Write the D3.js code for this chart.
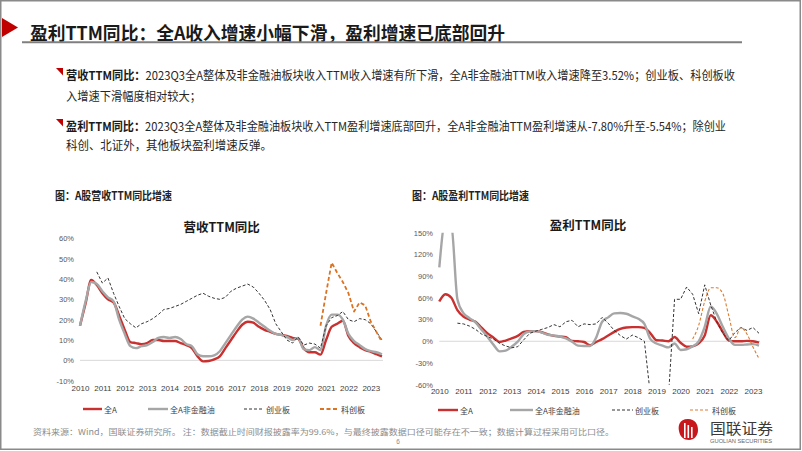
<!DOCTYPE html>
<html><head><meta charset="utf-8">
<script src="https://cdn.jsdelivr.net/npm/d3@7"></script>
<style>body{margin:0;background:#fff}svg{display:block}</style>
</head><body>
<svg id="c" width="802" height="451"></svg>
<script>
// ---------- data ----------
const years = ["2010","2011","2012","2013","2014","2015","2016","2017","2018","2019","2020","2021","2022","2023"];
const quarterNames = ["Q1","Q2","Q3","Q4"];
const legendLabels = ["全A","全A非金融油","创业板","科创板"];

// 营收TTM同比 (%), 2010Q1 - 2023Q3
const revAll = [17,28,39.5,37,33,30,28.5,22,15,9,
  8.5,8,8.5,10,10,9.5,9.5,9.5,8.5,7.5,
  6,2,-0.5,-0.3,0.5,2,6,10,14,17.5,
  19,18.5,16.5,15,14,13,12.5,12,11,10.5,
  6,4,4,2.8,10,16.5,18,19.5,12,8.5,
  6.5,5,4.2,3,2];
const revNonFin = [17,29,38.5,37.5,34,31,29,20,13,7,
  6,7,7.5,9,11,11.5,11,11.5,10.5,8,
  7,3,2,2,2.5,4.5,8.5,12.5,16.5,20,
  21.5,20.5,18.5,16.5,14.5,13,12.5,11.5,10,11,
  5.5,5,6.5,5,17,22.5,22.5,20,13,9.5,
  7.5,5.5,4.5,4,3];
const revChiNext = [null,null,null,43.5,38,40.5,33,26.5,20.5,18,
  16,18,19,20.5,22.5,25,25.5,26.5,27.5,29,
  30.5,32,33,31.5,30.5,30,31,34,35.5,36.5,
  37.5,36,33,29.5,25,18,14,10,8.5,11.5,
  7.5,8.5,8,6,17,21,22,24,20,19,
  20.5,20,18,14,10];
const revStar = [null,null,null,null,null,null,null,null,null,null,
  null,null,null,null,null,null,null,null,null,null,
  null,null,null,null,null,null,null,null,null,null,
  null,null,null,null,null,null,null,null,null,null,
  null,null,null,17,33,48,43,38.5,33,24,
  28.5,27,19,14,9];

// 盈利TTM同比 (%), 2010Q1 - 2023Q2
const profAll = [55,65,60,43,34,30,27,19,11,5,
  -1,1,4,7.5,13,14,14,12.5,9.5,7.5,
  6.5,5.5,0.5,0,-1,-5.5,-1,3,8,13,
  17,19,19.5,19.5,18.5,11,1.5,1,0,6,
  -2,-7.5,-7,-3,8,36,27,13,1,0,
  0,0.5,0,-2];
const profNonFin = [102,165,160,58,39,32,26,16,6,-5,
  -14,-13,-7.5,-0.5,10,13.5,14,12,9,8,
  6.5,4,-0.5,-6,-6.5,-6.5,5,27,33,38.5,
  39,38,34.5,31,24,3,-3,-6,-8.5,-3,
  -12,-11,-7,0,20,48,38,20,4,-5,
  -5,-4.5,-4,-6];
const profChiNext = [null,null,null,25,24,21,16.5,10,6.5,3,
  -3,-6.5,-9,-7.5,2,11,14,16.5,19,23,
  20,27,29,20,24,23,24,33,25,15,
  8,3,8.5,5,0,-75,-90,-90,-75,58,
  58,75,65,38,78,50,27,11,1,12,
  19,15,19,11];
const profStar = [null,null,null,null,null,null,null,null,null,null,
  null,null,null,null,null,null,null,null,null,null,
  null,null,null,null,null,null,null,null,null,null,
  null,null,null,null,null,null,null,null,null,null,
  null,null,3,22,55,74,74,66,35,5,
  19,10,-8,-24];

const revTicks = [-10,0,10,20,30,40,50,60];
const profTicks = [-60,-30,0,30,60,90,120,150];

// ---------- drawing ----------
const quarters = years.flatMap(y => quarterNames.map(q => y + q));
const svg = d3.select("#c");
const CJK = "'Noto Sans CJK SC','Noto Sans',sans-serif";
const LAT = "'Liberation Sans',Arial,sans-serif";

// slide frame
svg.append("rect").attr("x",0.75).attr("y",0.75).attr("width",799.5).attr("height",448.5)
  .attr("fill","none").attr("stroke","#8a8a8a").attr("stroke-width",1.5);

// header
svg.append("polygon").attr("points","2,18 18,27.5 2,37").attr("fill","#c00000");
svg.append("text").attr("x",30).attr("y",32).attr("dominant-baseline","central")
  .attr("font-family",CJK).attr("font-size",18).attr("font-weight","bold").attr("fill","#1a1a1a")
  .attr("textLength",475).attr("lengthAdjust","spacingAndGlyphs")
  .text("盈利TTM同比：全A收入增速小幅下滑，盈利增速已底部回升");
svg.append("line").attr("x1",22).attr("x2",742).attr("y1",42.3).attr("y2",42.3)
  .attr("stroke","#7f7f7f").attr("stroke-width",2);

// bullets
const bullets = [
  {y:74, head:"营收TTM同比：", body:"2023Q3全A整体及非金融油板块收入TTM收入增速有所下滑，全A非金融油TTM收入增速降至3.52%；创业板、科创板收", len:669, marker:true},
  {y:95, head:"", body:"入增速下滑幅度相对较大；", len:135, marker:false},
  {y:125, head:"盈利TTM同比：", body:"2023Q3全A整体及非金融油板块收入TTM盈利增速底部回升，全A非金融油TTM盈利增速从-7.80%升至-5.54%；除创业", len:660, marker:true},
  {y:144, head:"", body:"科创、北证外，其他板块盈利增速反弹。", len:206, marker:false}
];
bullets.forEach(b => {
  if (b.marker) svg.append("polygon")
    .attr("points",`56,${b.y-6} 63,${b.y-6} 63,${b.y+1.5}`).attr("fill","#c00000");
  const t = svg.append("text").attr("x",66).attr("y",b.y).attr("dominant-baseline","central")
    .attr("font-family",CJK).attr("font-size",12).attr("fill","#262626")
    .attr("textLength",b.len).attr("lengthAdjust","spacingAndGlyphs");
  if (b.head) t.append("tspan").attr("font-weight","bold").attr("fill","#1a1a1a").text(b.head);
  t.append("tspan").text(b.body);
});

function drawChart(cfg) {
  const g = svg.append("g");
  // caption
  g.append("text").attr("x",cfg.capX).attr("y",195).attr("dominant-baseline","central")
    .attr("font-family",CJK).attr("font-size",11).attr("font-weight","bold").attr("fill","#222")
    .attr("textLength",117).attr("lengthAdjust","spacingAndGlyphs").text(cfg.caption);
  // title
  g.append("text").attr("x",cfg.titleX).attr("y",cfg.titleY).attr("text-anchor","middle")
    .attr("dominant-baseline","central").attr("font-family",CJK).attr("font-size",12.5)
    .attr("font-weight","bold").attr("fill","#1a1a1a").text(cfg.title);

  const cats = quarters.slice(0, cfg.series[0].length);
  const x = d3.scalePoint().domain(cats).range(cfg.xRange);
  const y = d3.scaleLinear().domain(cfg.yDomain).range(cfg.yRange);

  // y axis
  const ya = g.append("g").attr("transform",`translate(${cfg.yAxisX},0)`)
    .call(d3.axisLeft(y).tickValues(cfg.ticks).tickSize(0).tickPadding(3).tickFormat(d => d + "%"));
  ya.select(".domain").remove();
  ya.selectAll("text").attr("font-family",LAT).attr("font-size",7.5).attr("fill","#595959");

  // x axis
  const xa = g.append("g").attr("transform",`translate(0,${cfg.xAxisY})`)
    .call(d3.axisBottom(x).tickValues(years.map(v => v + "Q1")).tickSize(0).tickPadding(4)
      .tickFormat(d => d.slice(0,4)));
  xa.select(".domain").remove();
  xa.selectAll("text").attr("font-family",LAT).attr("font-size",8).attr("fill","#404040");

  // zero line
  g.append("line").attr("x1",cfg.xRange[0]).attr("x2",cfg.xRange[1] + 1)
    .attr("y1",y(0)).attr("y2",y(0)).attr("stroke","#d9d9d9").attr("stroke-width",1);

  const clipId = "clip" + cfg.id;
  svg.append("clipPath").attr("id",clipId).append("rect")
    .attr("x",cfg.xRange[0]-5).attr("y",cfg.yRange[1]).attr("width",cfg.xRange[1]-cfg.xRange[0]+10)
    .attr("height",cfg.yRange[0]-cfg.yRange[1]);
  const pg = g.append("g").attr("clip-path",`url(#${clipId})`);

  cfg.styles.forEach((s, i) => {
    const data = cfg.series[i].map((v, k) => ({c: cats[k], v}));
    const line = d3.line().defined(d => d.v !== null).x(d => x(d.c)).y(d => y(d.v)).curve(s.curve);
    pg.append("path").datum(data).attr("d",line).attr("fill","none")
      .attr("stroke",s.color).attr("stroke-width",s.width)
      .attr("stroke-dasharray",s.dash || null).attr("stroke-linejoin","round");
  });

  // legend
  cfg.legend.forEach((L, i) => {
    const s = cfg.styles[i];
    g.append("line").attr("x1",L[0]).attr("x2",L[1]).attr("y1",cfg.legendY).attr("y2",cfg.legendY)
      .attr("stroke",s.color).attr("stroke-width",s.legendWidth || s.width).attr("stroke-dasharray",s.dash || null);
    g.append("text").attr("x",L[1] + 2).attr("y",cfg.legendY).attr("dominant-baseline","central")
      .attr("font-family",CJK).attr("font-size",8).attr("fill","#404040").text(legendLabels[i]);
  });
}

drawChart({
  id: "rev", caption: "图：A股营收TTM同比增速", capX: 55,
  title: "营收TTM同比", titleX: 221.7, titleY: 226.5,
  series: [revAll, revNonFin, revChiNext, revStar],
  styles: [
    {color:"#c8312f", width:2.4, curve:d3.curveMonotoneX},
    {color:"#a6a6a6", width:2.4, curve:d3.curveMonotoneX},
    {color:"#333333", width:1, dash:"3,2", curve:d3.curveLinear},
    {color:"#dc7322", width:1.8, dash:"4,2.5", curve:d3.curveLinear}
  ],
  xRange: [80, 382], yDomain: [-10, 60], yRange: [380.7, 238.3],
  ticks: revTicks, yAxisX: 77, xAxisY: 381,
  legendY: 409,
  legend: [[83,102],[148,168],[244,264],[320,339]]
});

drawChart({
  id: "prof", caption: "图：A股盈利TTM同比增速", capX: 412,
  title: "盈利TTM同比", titleX: 588, titleY: 224,
  series: [profAll, profNonFin, profChiNext, profStar],
  styles: [
    {color:"#c8312f", width:2.4, curve:d3.curveMonotoneX},
    {color:"#a6a6a6", width:2.4, curve:d3.curveMonotoneX},
    {color:"#333333", width:1, dash:"3,2", curve:d3.curveLinear},
    {color:"#e07a2c", width:1.1, dash:"3,2", curve:d3.curveMonotoneX}
  ],
  xRange: [439.3, 759], yDomain: [-60, 150], yRange: [384.7, 232.7],
  ticks: profTicks, yAxisX: 436, xAxisY: 384,
  legendY: 410,
  legend: [[438,458],[510,533],[612,633],[690,710]]
});

// source note
svg.append("text").attr("x",33).attr("y",431).attr("dominant-baseline","central")
  .attr("font-family",CJK).attr("font-size",8).attr("fill","#8c8c8c")
  .attr("textLength",581).attr("lengthAdjust","spacingAndGlyphs")
  .text("资料来源：Wind，国联证券研究所。  注：数据截止时间财报披露率为99.6%，与最终披露数据口径可能存在不一致；数据计算过程采用可比口径。");
svg.append("text").attr("x",398).attr("y",441).attr("text-anchor","middle").attr("dominant-baseline","central")
  .attr("font-family",LAT).attr("font-size",6.5).attr("fill","#8c8c8c").text("6");

// logo
const lg = svg.append("g");
lg.append("path").attr("d","M688,419 C679,419 678,426 679,431 C680,437 684,440 689,440 C694,440 698,436 698,430 C698,424 695,419 688,419 Z")
  .attr("fill","#c8161d");
[684,687.5,691].forEach((bx,i) => lg.append("rect").attr("x",bx).attr("y",423 + i*2)
  .attr("width",1.6).attr("height",15 - i*2).attr("fill","#fff"));
lg.append("text").attr("x",710).attr("y",427).attr("dominant-baseline","central")
  .attr("font-family",CJK).attr("font-size",15).attr("fill","#3a3a3a")
  .attr("textLength",63).attr("lengthAdjust","spacingAndGlyphs").text("国联证券");
lg.append("text").attr("x",710).attr("y",441.5).attr("dominant-baseline","central")
  .attr("font-family",LAT).attr("font-size",4.5).attr("fill","#666")
  .attr("textLength",62).attr("lengthAdjust","spacingAndGlyphs").text("GUOLIAN SECURITIES");
</script>
</body></html>
